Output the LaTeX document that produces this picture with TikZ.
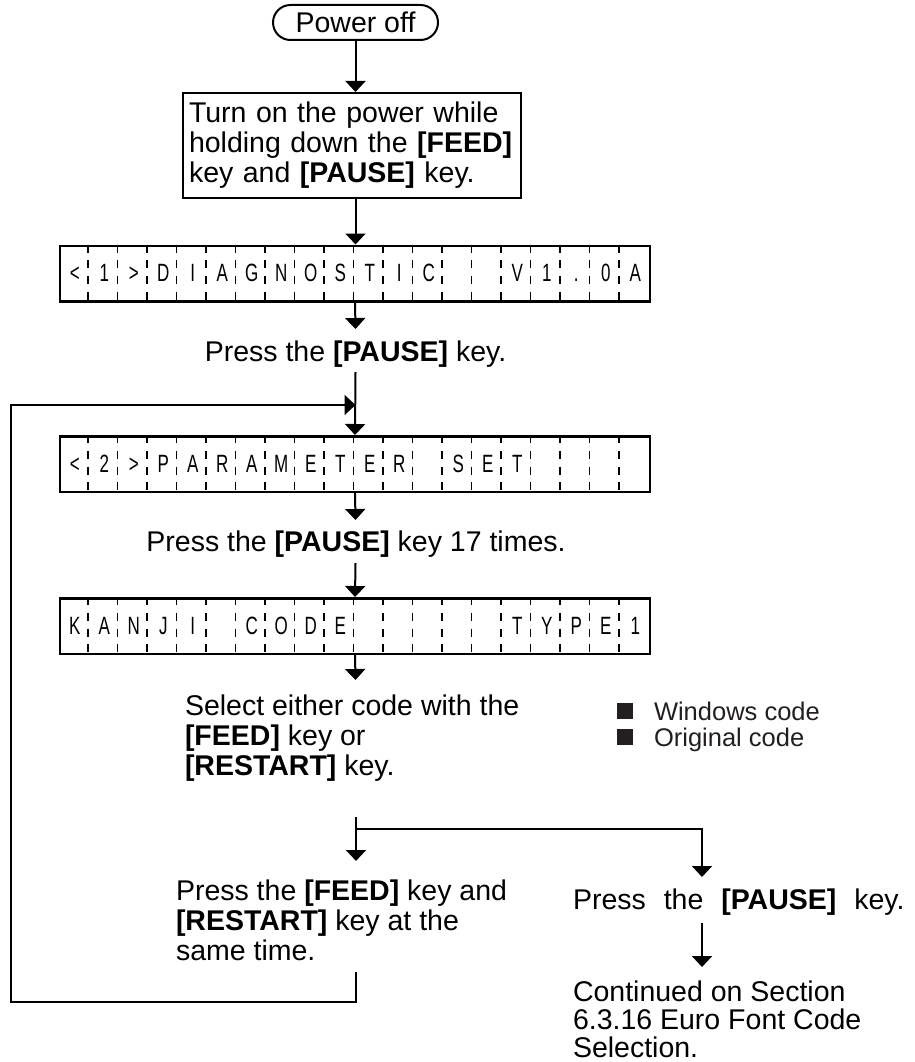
\documentclass[tikz,border=0pt]{standalone}
\usepackage{fontspec}
\usepackage{graphicx}
\setmainfont{Liberation Sans}
\usetikzlibrary{arrows.meta,calc}
\definecolor{legendgray}{HTML}{231F20}
\def\lcdblank{-}
\newcommand\mylcd[3]{%
  \node[lcd, anchor=north] (#1) at (355,#2) {};
  \foreach \k in {1,...,19} {
    \draw[lcddiv] ([xshift=\k*29.5pt]#1.north west) -- ([xshift=\k*29.5pt]#1.south west);
  }
  \foreach \c [count=\i from 0] in {#3} {
    \ifx\c\lcdblank\else
      \node[lcdch, anchor=base] (#1c\i) at ({74.75+29.5*\i},{#2+37}) {\scalebox{0.68}[1]{\c}};
    \fi
  }
}
\begin{document}
\begin{tikzpicture}[x=1pt,y=-1pt,
  line width=2pt,
  arr/.style={-{Triangle[width=20pt,length=11pt]}},
  txt/.style={font=\fontsize{28.5}{30}\selectfont, inner sep=0pt},
  lcd/.style={draw, line width=2.6pt, minimum width=590pt, minimum height=55.5pt, inner sep=0pt},
  lcddiv/.style={line width=1.5pt, dash pattern=on 8pt off 7.8pt},
  lcdch/.style={font=\fontsize{25}{26}\selectfont, inner sep=0pt},
  legend/.style={font=\fontsize{25.5}{26}\selectfont, inner sep=0pt, text=legendgray},
  sq/.style={fill=legendgray, minimum size=16pt, inner sep=0pt},
]
\useasboundingbox (0,0) rectangle (914,1062);

% start node
\node[txt, draw, line width=2pt, rounded corners=17.5pt, minimum width=165pt, minimum height=35pt] (poweroff) at (355.5,22.5) {Power off};

% first instruction box
\node[txt, draw, line width=2pt, minimum width=338pt, minimum height=105pt, text width=326pt, inner xsep=6pt, align=left] (box) at (352,145.5)
  {Turn on the power while\\holding down the \textbf{[FEED]}\\key and \textbf{[PAUSE]} key.};

\mylcd{lcdA}{244.5}{<,1,>,D,I,A,G,N,O,S,T,I,C,-,-,V,1,.,0,A}
\mylcd{lcdB}{435}{<,2,>,P,A,R,A,M,E,T,E,R,-,S,E,T,-,-,-,-}
\mylcd{lcdC}{597}{K,A,N,J,I,-,C,O,D,E,-,-,-,-,-,T,Y,P,E,1}

\node[txt, anchor=base] (pauseA) at (355.5,361.5) {Press the \textbf{[PAUSE]} key.};
\node[txt, anchor=base] (pauseB) at (356,551.5) {Press the \textbf{[PAUSE]} key 17 times.};
\node[txt, align=left, anchor=north west] (select) at (184,694)
  {Select either code with the\\\textbf{[FEED]} key or\\\textbf{[RESTART]} key.};

% legend
\node[sq] (sqA) at (625,711) {};
\node[sq] (sqB) at (625,737) {};
\node[legend, anchor=base west] (winc) at (653,720) {Windows code};
\node[legend, anchor=base west] (orgc) at (653,746) {Original code};

\node[txt, align=left, anchor=north west] (both) at (175,879)
  {Press the \textbf{[FEED]} key and\\\textbf{[RESTART]} key at the\\same time.};
\node[txt, anchor=base west] (pauseC) at (572,909.5)
  {Press \hspace{10pt}the \hspace{10pt}\textbf{[PAUSE]} \hspace{10pt}key.};
\node[txt, font=\fontsize{28.5}{28}\selectfont, align=left, anchor=north west] (cont) at (572,979.5)
  {Continued on Section\\6.3.16 Euro Font Code\\Selection.};

% coordinates for free connector ends
\coordinate (tA) at (355.5,329);
\coordinate (sA) at (355.5,372);
\coordinate (tB) at (355.5,520);
\coordinate (sB) at (355.5,563);
\coordinate (tC) at (355.5,680);
\coordinate (f0) at (356,817);
\coordinate (f1) at (356,829);
\coordinate (fl) at (356,861);
\coordinate (f2) at (702,829);
\coordinate (fr) at (702,877);
\coordinate (pS) at (702,923);
\coordinate (pE) at (702,967);
\coordinate (lp0) at (356,972);
\coordinate (lp1) at (356,1002);
\coordinate (lp2) at (11,1002);
\coordinate (lp3) at (11,405);
\coordinate (lp4) at (355.5,405);

% connectors
\draw[arr] (poweroff.south) -- (poweroff.south |- box.north);
\draw[arr] (poweroff.south |- box.south) -- (lcdA.north -| poweroff.south);
\draw[arr] (lcdA.south) -- (tA);
\draw[arr] (sA) -- (lcdB.north);
\draw[arr] (lcdB.south) -- (tB);
\draw[arr] (sB) -- (lcdC.north);
\draw[arr] (lcdC.south) -- (tC);
\draw[arr] (f0) -- (fl);
\draw[arr] (f1) -- (f2) -- (fr);
\draw[arr] (pS) -- (pE);
\draw[arr] (lp0) -- (lp1) -- (lp2) -- (lp3) -- (lp4);
\end{tikzpicture}
\end{document}
